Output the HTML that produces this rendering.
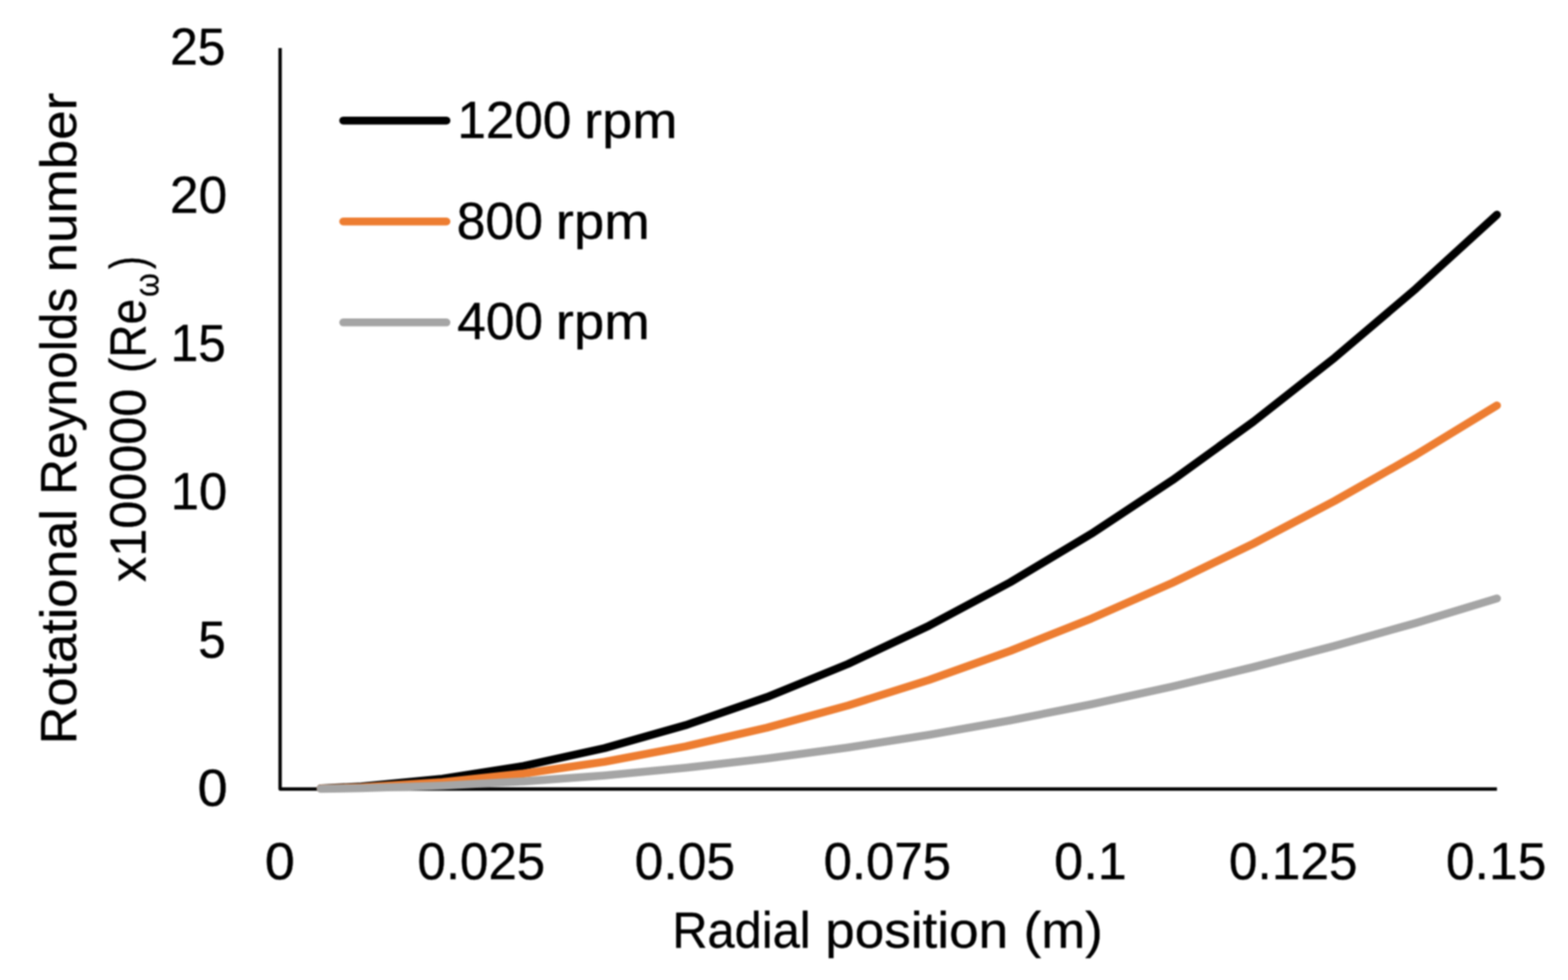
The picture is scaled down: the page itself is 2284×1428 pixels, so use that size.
<!DOCTYPE html>
<html lang="en">
<head>
<meta charset="utf-8">
<title>Rotational Reynolds number vs radial position</title>
<style>
html,body{margin:0;padding:0;background:#fff;}
body{width:2284px;height:1428px;overflow:hidden;}
svg{display:block;}
text{font-family:"Liberation Sans",sans-serif;font-size:75px;fill:#000;stroke:#000;stroke-width:0.5px;stroke-linejoin:round;}
</style>
</head>
<body>
<svg width="2284" height="1428" viewBox="0 0 2284 1428">
<rect x="0" y="0" width="2284" height="1428" fill="#ffffff"/>
<defs><filter id="soft" x="0" y="0" width="2284" height="1428" filterUnits="userSpaceOnUse" color-interpolation-filters="sRGB"><feGaussianBlur stdDeviation="0.9"/></filter></defs>
<g filter="url(#soft)">
<!-- axes -->
<polyline points="408.0,70.0 408.0,1149.7 2180.5,1149.7" fill="none" stroke="#000" stroke-width="4.9" stroke-linejoin="round" stroke-linecap="butt"/>
<!-- data series -->
<polyline points="467.1,1148.8 526.2,1146.0 644.3,1134.8 762.5,1116.2 880.7,1090.2 998.8,1056.7 1117.0,1015.8 1235.2,967.5 1353.3,911.7 1471.5,848.5 1589.7,777.8 1707.8,699.7 1826.0,614.2 1944.2,521.2 2062.3,420.8 2180.5,312.9" fill="none" stroke="#000000" stroke-width="11.6" stroke-linejoin="round" stroke-linecap="round"/>
<polyline points="467.1,1149.1 526.2,1147.2 644.3,1139.8 762.5,1127.3 880.7,1110.0 998.8,1087.6 1117.0,1060.3 1235.2,1028.0 1353.3,990.7 1471.5,948.5 1589.7,901.3 1707.8,849.2 1826.0,792.0 1944.2,729.9 2062.3,662.9 2180.5,590.8" fill="none" stroke="#ED7D31" stroke-width="11.6" stroke-linejoin="round" stroke-linecap="round"/>
<polyline points="467.1,1149.4 526.2,1148.5 644.3,1144.8 762.5,1138.6 880.7,1130.0 998.8,1118.8 1117.0,1105.3 1235.2,1089.2 1353.3,1070.7 1471.5,1049.7 1589.7,1026.3 1707.8,1000.4 1826.0,972.0 1944.2,941.1 2062.3,907.8 2180.5,872.0" fill="none" stroke="#A5A5A5" stroke-width="11.6" stroke-linejoin="round" stroke-linecap="round"/>
<!-- legend keys -->
<line x1="500.0" y1="175.70" x2="650.3" y2="175.70" stroke="#000000" stroke-width="11.6" stroke-linecap="round"/>
<line x1="500.0" y1="322.75" x2="650.3" y2="322.75" stroke="#ED7D31" stroke-width="11.6" stroke-linecap="round"/>
<line x1="500.0" y1="469.80" x2="650.3" y2="469.80" stroke="#A5A5A5" stroke-width="11.6" stroke-linecap="round"/>
<!-- labels -->
<text><tspan x="247.72" y="94.20" textLength="80.73" lengthAdjust="spacingAndGlyphs" font-size="76px">25</tspan></text>
<text><tspan x="247.60" y="310.14" textLength="83.41" lengthAdjust="spacingAndGlyphs" font-size="76px">20</tspan></text>
<text><tspan x="248.53" y="526.08" textLength="80.40" lengthAdjust="spacingAndGlyphs" font-size="76px">15</tspan></text>
<text><tspan x="248.38" y="742.02" textLength="82.59" lengthAdjust="spacingAndGlyphs" font-size="76px">10</tspan></text>
<text><tspan x="288.75" y="957.96" textLength="40.17" lengthAdjust="spacingAndGlyphs" font-size="76px">5</tspan></text>
<text><tspan x="287.89" y="1173.90" textLength="43.86" lengthAdjust="spacingAndGlyphs" font-size="76px">0</tspan></text>
<text><tspan x="385.70" y="1280.80" textLength="43.74" lengthAdjust="spacingAndGlyphs" font-size="76px">0</tspan></text>
<text><tspan x="608.07" y="1280.80" textLength="186.05" lengthAdjust="spacingAndGlyphs" font-size="76px">0.025</tspan></text>
<text><tspan x="924.54" y="1280.80" textLength="146.10" lengthAdjust="spacingAndGlyphs" font-size="76px">0.05</tspan></text>
<text><tspan x="1199.67" y="1280.80" textLength="185.74" lengthAdjust="spacingAndGlyphs" font-size="76px">0.075</tspan></text>
<text><tspan x="1535.60" y="1280.80" textLength="105.76" lengthAdjust="spacingAndGlyphs" font-size="76px">0.1</tspan></text>
<text><tspan x="1790.04" y="1280.80" textLength="187.40" lengthAdjust="spacingAndGlyphs" font-size="76px">0.125</tspan></text>
<text><tspan x="2106.34" y="1280.80" textLength="146.10" lengthAdjust="spacingAndGlyphs" font-size="76px">0.15</tspan></text>
<text><tspan x="666.25" y="201.00" textLength="166.07" lengthAdjust="spacingAndGlyphs" font-size="76px">1200</tspan> <tspan x="850.73" y="201.00" textLength="136.27" lengthAdjust="spacingAndGlyphs">rpm</tspan></text>
<text><tspan x="665.17" y="347.50" textLength="125.87" lengthAdjust="spacingAndGlyphs" font-size="76px">800</tspan> <tspan x="809.50" y="347.50" textLength="136.92" lengthAdjust="spacingAndGlyphs">rpm</tspan></text>
<text><tspan x="665.97" y="494.00" textLength="125.05" lengthAdjust="spacingAndGlyphs" font-size="76px">400</tspan> <tspan x="809.50" y="494.00" textLength="136.92" lengthAdjust="spacingAndGlyphs">rpm</tspan></text>
<text><tspan x="979.17" y="1381.40" textLength="201.69" lengthAdjust="spacingAndGlyphs">Radial</tspan> <tspan x="1201.90" y="1381.40" textLength="266.72" lengthAdjust="spacingAndGlyphs">position</tspan> <tspan x="1491.13" y="1381.40" textLength="115.38" lengthAdjust="spacingAndGlyphs">(m)</tspan></text>
<text transform="rotate(-90)"><tspan x="-1084.44" y="111.00" textLength="342.70" lengthAdjust="spacingAndGlyphs">Rotational</tspan> <tspan x="-720.93" y="111.00" textLength="301.50" lengthAdjust="spacingAndGlyphs">Reynolds</tspan> <tspan x="-397.05" y="111.00" textLength="261.99" lengthAdjust="spacingAndGlyphs">number</tspan></text>
<text transform="rotate(-90)"><tspan x="-848.08" y="212.40" textLength="281.75" lengthAdjust="spacingAndGlyphs">x100000</tspan> <tspan x="-543.54" y="212.40" textLength="107.94" lengthAdjust="spacingAndGlyphs">(Re</tspan><tspan x="-432.46" y="231.20" textLength="34.36" lengthAdjust="spacingAndGlyphs" font-size="50px">ω</tspan><tspan x="-391.97" y="212.40" textLength="18.60" lengthAdjust="spacingAndGlyphs">)</tspan></text>
</g>
</svg>
</body>
</html>
